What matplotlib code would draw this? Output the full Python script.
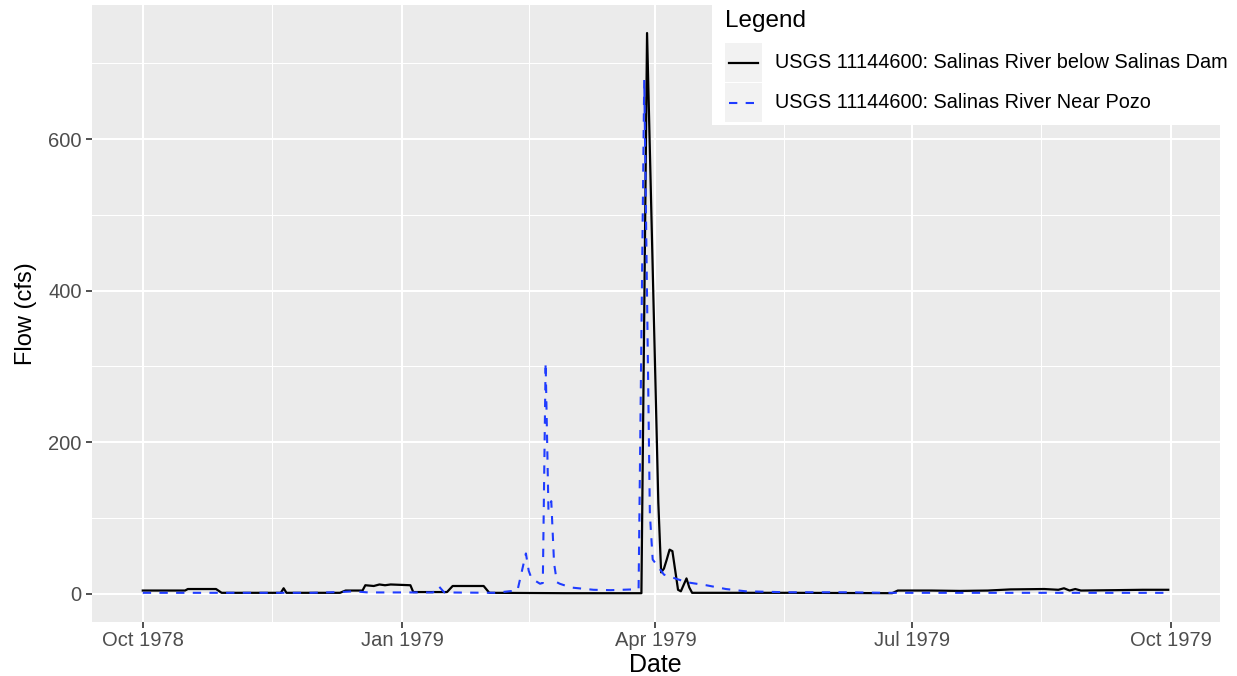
import numpy as np
import matplotlib
matplotlib.use("Agg")
import matplotlib.pyplot as plt
import matplotlib.dates as mdates
from matplotlib.patches import Rectangle
from matplotlib.lines import Line2D

plt.rcParams["font.family"] = ["Liberation Sans", "DejaVu Sans"]

# ── Data (daily flow, cfs; vertices) ──────────────────────────────────────
dam_dates = [
    "1978-10-01", "1978-10-16", "1978-10-17", "1978-10-27", "1978-10-29",
    "1978-11-19", "1978-11-20", "1978-11-21", "1978-12-10", "1978-12-12",
    "1978-12-18", "1978-12-19", "1978-12-22", "1978-12-24", "1978-12-26",
    "1978-12-28", "1979-01-04", "1979-01-05", "1979-01-17", "1979-01-19",
    "1979-01-30", "1979-02-01", "1979-02-28", "1979-03-27", "1979-03-29",
    "1979-04-02", "1979-04-03", "1979-04-04", "1979-04-05", "1979-04-06",
    "1979-04-07", "1979-04-09", "1979-04-10", "1979-04-12", "1979-04-13",
    "1979-04-14", "1979-05-18", "1979-06-24", "1979-06-26", "1979-07-08",
    "1979-07-18", "1979-07-28", "1979-08-05", "1979-08-17", "1979-08-22",
    "1979-08-24", "1979-08-26", "1979-08-28", "1979-08-30", "1979-09-11",
    "1979-09-21", "1979-09-30",
]
dam_flow = [
    4, 4, 6, 6, 1,
    1, 7, 1, 1, 4,
    4, 11, 10, 12, 11,
    12, 11, 2, 2, 10,
    10, 1, 0.5, 0.5, 740,
    120, 28, 33, 45, 58,
    56, 5, 3, 20, 8,
    1, 1, 0.5, 4, 4,
    3.5, 4, 5.5, 6, 5,
    7, 4, 6, 4, 4.5,
    5, 5,
]

pozo_dates = [
    "1978-10-01", "1978-11-30", "1978-12-10", "1978-12-15", "1978-12-20",
    "1979-01-12", "1979-01-14", "1979-01-16", "1979-02-03", "1979-02-08",
    "1979-02-11", "1979-02-14", "1979-02-15", "1979-02-16", "1979-02-19",
    "1979-02-20", "1979-02-21", "1979-02-22", "1979-02-23", "1979-02-24",
    "1979-02-25", "1979-02-26", "1979-03-02", "1979-03-10", "1979-03-16",
    "1979-03-24", "1979-03-26", "1979-03-28", "1979-03-30", "1979-03-31",
    "1979-04-04", "1979-04-12", "1979-04-19", "1979-04-26", "1979-05-03",
    "1979-05-18", "1979-06-08", "1979-06-22", "1979-09-30",
]
pozo_flow = [
    1, 1, 2, 3, 1.5,
    1.5, 10, 1.5, 1, 3,
    4, 53, 30, 20, 13,
    14, 305, 110, 122, 40,
    15, 13, 8, 5, 4.5,
    5.5, 6, 678, 105, 45,
    25, 15, 11, 6, 3,
    1.7, 1.7, 1, 1,
]

series_labels = [
    "USGS 11144600: Salinas River below Salinas Dam",
    "USGS 11144600: Salinas River Near Pozo",
]
x_breaks = ["1978-10-01", "1979-01-01", "1979-04-01", "1979-07-01", "1979-10-01"]
y_breaks = [0, 200, 400, 600]

# ── Style ─────────────────────────────────────────────────────────────────
PANEL = "#EBEBEB"
TICK_TXT = "#4D4D4D"
TICK_COL = "#333333"
BLUE = "#1f3cff"
W, H = 1237, 676

fig = plt.figure(figsize=(W / 100, H / 100), dpi=100, facecolor="white")
ax = fig.add_axes([91.5 / W, 1 - 621.6 / H, (1219.5 - 91.5) / W, (621.6 - 5) / H])
ax.set_facecolor(PANEL)
for s in ax.spines.values():
    s.set_visible(False)

d_dam = mdates.date2num(np.array(dam_dates, dtype="datetime64[D]"))
d_pozo = mdates.date2num(np.array(pozo_dates, dtype="datetime64[D]"))

ax.plot(d_dam, dam_flow, color="black", lw=1.6, zorder=3, solid_joinstyle="round")
ax.plot(d_pozo, pozo_flow, color=BLUE, lw=1.5, ls=(0, (4, 4)), zorder=4)

# limits with ggplot-like 5% expansion
x0, x1 = d_dam.min(), d_dam.max()
pad = 0.05 * (x1 - x0)
ax.set_xlim(x0 - pad, x1 + pad)
ax.set_ylim(-37, 777)

xb = mdates.date2num(np.array(x_breaks, dtype="datetime64[D]"))
ax.set_xticks(xb)
ax.xaxis.set_major_formatter(mdates.DateFormatter("%b %Y"))
ax.set_xticks((xb[:-1] + xb[1:]) / 2, minor=True)
ax.set_yticks(y_breaks)
ax.set_yticks([100, 300, 500, 700], minor=True)

ax.grid(which="major", color="white", lw=1.5)
ax.grid(which="minor", color="white", lw=0.75)
ax.set_axisbelow(True)
ax.tick_params(which="major", length=4, width=1.2, color=TICK_COL,
               labelsize=14.5, labelcolor=TICK_TXT, pad=3)
ax.tick_params(which="minor", length=0)

ax.set_xlabel("Date", fontsize=18, labelpad=2)
ax.set_ylabel("Flow (cfs)", fontsize=17, labelpad=8)

# ── Legend (ggplot-style, drawn in pixel space) ───────────────────────────
lg = fig.add_axes([0, 0, 1, 1], zorder=10)
lg.set_xlim(0, W)
lg.set_ylim(H, 0)
lg.axis("off")
lg.add_patch(Rectangle((712, 0), W - 712, 125, facecolor="white", edgecolor="none"))
lg.text(725, 21, "Legend", fontsize=17.5, va="center", ha="left")
key_styles = [dict(color="black", lw=1.6), dict(color=BLUE, lw=1.5, ls=(0, (4, 4)))]
for i, (lab, st) in enumerate(zip(series_labels, key_styles)):
    yc = 63 + 40 * i
    lg.add_patch(Rectangle((725, yc - 20), 37, 39, facecolor="#F2F2F2", edgecolor="none"))
    lg.add_line(Line2D([729, 758], [yc, yc], **st))
    lg.text(775, yc, lab, fontsize=14.3, va="center", ha="left")

fig.savefig("out.png", dpi=100, facecolor="white")
